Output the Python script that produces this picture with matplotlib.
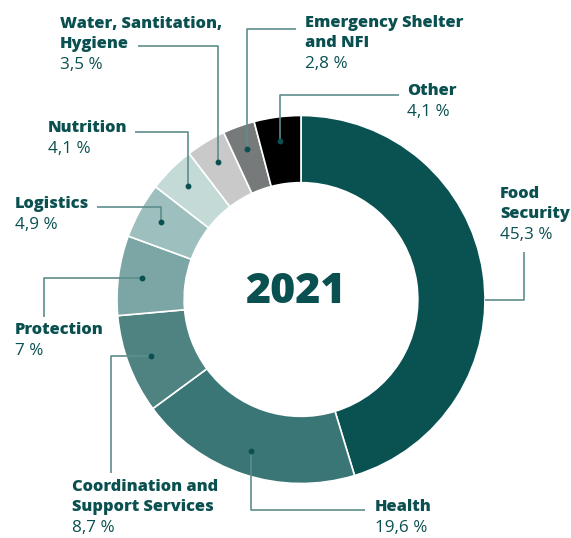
import numpy as np
import matplotlib.pyplot as plt

# Funding share by cluster, 2021 (%)
sectors = ["Food\nSecurity", "Health", "Coordination and\nSupport Services",
           "Protection", "Logistics", "Nutrition",
           "Water, Santitation,\nHygiene", "Emergency Shelter\nand NFI", "Other"]
shares = [45.3, 19.6, 8.7, 7, 4.9, 4.1, 3.5, 2.8, 4.1]
share_labels = ["45,3 %", "19,6 %", "8,7 %", "7 %", "4,9 %", "4,1 %",
                "3,5 %", "2,8 %", "4,1 %"]
colors = ["#0a5152", "#3a7675", "#4f8382", "#7ba6a5", "#9dbfbd",
          "#c3dad7", "#c9c9c9", "#777a7a", "#000000"]

TEXT = "#0b5050"
LINE = "#5e8d8c"
W, H = 571, 538
CX, CY, R = 301, 299.5, 184

fig = plt.figure(figsize=(W / 100, H / 100), dpi=100)
ax = fig.add_axes([0, 0, 1, 1])

wedges, _ = ax.pie(shares, colors=colors, startangle=90, counterclock=False,
                   radius=1, wedgeprops=dict(width=0.365, edgecolor="white",
                                             linewidth=1.2))
ax.set_xlim(-CX / R, (W - CX) / R)
ax.set_ylim(-(H - CY) / R, CY / R)
ax.set_aspect("equal")
ax.axis("off")


def px(x, y):
    # pixel position (top-left origin) -> data coords
    return (x - CX) / R, (CY - y) / R


ax.text(*px(295, 292), "2021", ha="center", va="center", fontsize=31,
        fontweight="heavy", family="Open Sans", color=TEXT)

# label anchor (x, y of title top), where the leader meets the label, path shape
layout = [
    dict(text=(500, 186), end=(524, 252), shape="hv", angle=0.0, r=1.0, dot=False),
    dict(text=(375, 499), end=(365, 510), shape="vh"),
    dict(text=(72, 479), end=(111, 473), shape="hv"),
    dict(text=(15, 322), end=(44, 317), shape="hv"),
    dict(text=(15, 196), end=(97, 207), shape="vh"),
    dict(text=(48, 120), end=(135, 132), shape="vh"),
    dict(text=(60, 16), end=(138, 46), shape="vh"),
    dict(text=(305, 15), end=(296, 29), shape="vh"),
    dict(text=(407, 83), end=(399, 95), shape="vh"),
]

for w, name, pct, lay in zip(wedges, sectors, share_labels, layout):
    theta = np.deg2rad(lay.get("angle", (w.theta1 + w.theta2) / 2))
    rr = lay.get("r", 0.87)
    dx, dy = rr * np.cos(theta), rr * np.sin(theta)
    ex, ey = px(*lay["end"])
    if lay["shape"] == "vh":
        xs, ys = [dx, dx, ex], [dy, ey, ey]
    else:
        xs, ys = [dx, ex, ex], [dy, dy, ey]
    ax.plot(xs, ys, color=LINE, lw=1.2, solid_capstyle="butt", zorder=3)
    if lay.get("dot", True):
        ax.plot(dx, dy, "o", color=TEXT, ms=3.2, zorder=4)

    tx, ty = px(*lay["text"])
    nlines = name.count("\n") + 1
    ax.text(tx, ty, name, ha="left", va="top", fontsize=11.8,
            fontweight="heavy", family="Open Sans", color=TEXT,
            linespacing=1.3)
    ty2 = ty - (nlines * 20 + 1) / R
    ax.text(tx, ty2, pct, ha="left", va="top", fontsize=12.3,
            family="Open Sans", color=TEXT)

fig.savefig("out.png", dpi=100)
